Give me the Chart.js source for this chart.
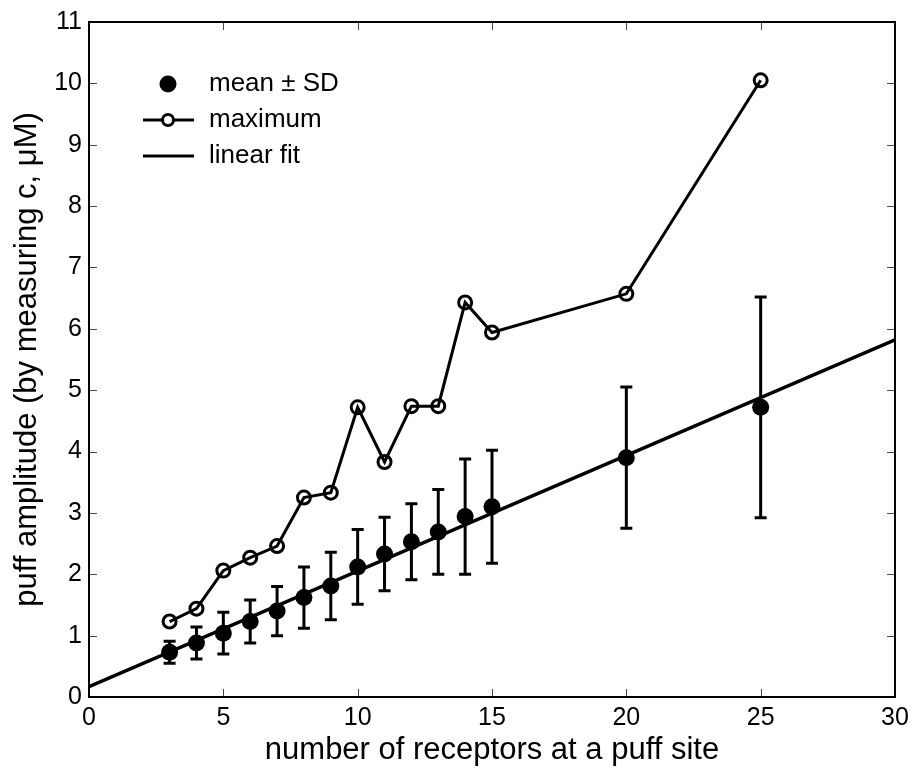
<!DOCTYPE html>
<html lang="en">
<head>
    <meta charset="UTF-8">
    <title>puff amplitude</title>
    <style>
        body { margin: 0; background: #fff; }
        #myChartPuff { display: block; }
    </style>
</head>
<body>
    <canvas id="myChartPuff" width="915" height="769"></canvas>

    <script src="https://cdn.jsdelivr.net/npm/chart.js"></script>
    <script>
    // receptors at a puff site
    var receptors = [3, 4, 5, 6, 7, 8, 9, 10, 11, 12, 13, 14, 15, 20, 25]
    var meanAmp =   [0.73, 0.88, 1.04, 1.23, 1.40, 1.62, 1.81, 2.12, 2.33, 2.53, 2.69, 2.94, 3.10, 3.90, 4.72]
    var sdAmp =     [0.18, 0.26, 0.34, 0.35, 0.40, 0.50, 0.55, 0.61, 0.60, 0.62, 0.69, 0.94, 0.92, 1.15, 1.80]
    var maxAmp =    [1.23, 1.44, 2.06, 2.27, 2.46, 3.25, 3.33, 4.72, 3.83, 4.74, 4.74, 6.43, 5.94, 6.57, 10.05]
    var fitX = [0, 30]
    var fitY = [0.17, 5.82]

    var xTicks = [0, 5, 10, 15, 20, 25, 30]
    var yTicks = [0, 1, 2, 3, 4, 5, 6, 7, 8, 9, 10, 11]

    var legendLabels = ['mean \u00b1 SD', 'maximum', 'linear fit']

    const FONT = '"Liberation Sans", Arial, Helvetica, sans-serif';

    function toPoints(xs, ys) {
        return xs.map((v, i) => ({ x: v, y: ys[i] }));
    }

    // box round the plot with MATLAB style inward ticks
    const boxTicks = {
        id: 'boxTicks',
        afterDraw(chart) {
            const { ctx, chartArea: a, scales: { x, y } } = chart;
            ctx.save();
            ctx.strokeStyle = '#444';
            ctx.lineWidth = 1;
            ctx.beginPath();
            xTicks.forEach(v => {
                const px = Math.round(x.getPixelForValue(v)) + 0.5;
                ctx.moveTo(px, a.bottom); ctx.lineTo(px, a.bottom - 8);
                ctx.moveTo(px, a.top); ctx.lineTo(px, a.top + 8);
            });
            yTicks.forEach(v => {
                const py = Math.round(y.getPixelForValue(v)) + 0.5;
                ctx.moveTo(a.left, py); ctx.lineTo(a.left + 8, py);
                ctx.moveTo(a.right, py); ctx.lineTo(a.right - 8, py);
            });
            ctx.stroke();
            ctx.strokeStyle = '#000';
            ctx.lineWidth = 2;
            ctx.strokeRect(a.left, a.top, a.right - a.left, a.bottom - a.top);
            ctx.restore();
        }
    };

    const errorBars = {
        id: 'errorBars',
        beforeDatasetsDraw(chart) {
            const { ctx, scales: { x, y } } = chart;
            ctx.save();
            ctx.strokeStyle = '#000';
            ctx.lineWidth = 3;
            ctx.beginPath();
            for (let i = 0; i < receptors.length; i++) {
                const px = x.getPixelForValue(receptors[i]);
                const top = y.getPixelForValue(meanAmp[i] + sdAmp[i]);
                const bot = y.getPixelForValue(meanAmp[i] - sdAmp[i]);
                ctx.moveTo(px, top); ctx.lineTo(px, bot);
                ctx.moveTo(px - 6, top); ctx.lineTo(px + 6, top);
                ctx.moveTo(px - 6, bot); ctx.lineTo(px + 6, bot);
            }
            ctx.stroke();
            ctx.restore();
        }
    };

    // legend sits inside the axes, top left
    const innerLegend = {
        id: 'innerLegend',
        afterDraw(chart) {
            const { ctx, chartArea: a } = chart;
            const x0 = a.left + 54, x1 = a.left + 105, xm = a.left + 79, tx = a.left + 120;
            const rows = [a.top + 62, a.top + 98, a.top + 134];
            ctx.save();
            ctx.fillStyle = '#000';
            ctx.strokeStyle = '#000';
            // filled marker
            ctx.beginPath();
            ctx.arc(xm, rows[0], 8.5, 0, Math.PI * 2);
            ctx.fill();
            // line with open marker
            ctx.lineWidth = 3;
            ctx.beginPath();
            ctx.moveTo(x0, rows[1]); ctx.lineTo(x1, rows[1]);
            ctx.moveTo(x0, rows[2]); ctx.lineTo(x1, rows[2]);
            ctx.stroke();
            ctx.beginPath();
            ctx.arc(xm, rows[1], 5.5, 0, Math.PI * 2);
            ctx.fillStyle = '#fff';
            ctx.fill();
            ctx.lineWidth = 3;
            ctx.stroke();
            ctx.fillStyle = '#000';
            ctx.font = '26px ' + FONT;
            ctx.textBaseline = 'middle';
            ctx.textAlign = 'left';
            legendLabels.forEach((t, i) => ctx.fillText(t, tx, rows[i]));
            ctx.restore();
        }
    };

    function ctxPuff() {
        const ctx = document.getElementById('myChartPuff').getContext('2d');
        const data = {
            datasets: [
                {
                    label: 'linear fit',
                    data: toPoints(fitX, fitY),
                    showLine: true,
                    borderColor: '#000',
                    borderWidth: 3.5,
                    pointRadius: 0,
                    order: 2
                },
                {
                    label: 'maximum',
                    data: toPoints(receptors, maxAmp),
                    showLine: true,
                    borderColor: '#000',
                    borderWidth: 3,
                    pointRadius: 6.5,
                    pointBorderWidth: 3,
                    pointBackgroundColor: 'rgba(255,255,255,0)',
                    pointBorderColor: '#000',
                    order: 1
                },
                {
                    label: 'mean \u00b1 SD',
                    data: toPoints(receptors, meanAmp),
                    showLine: false,
                    pointRadius: 8.5,
                    pointBorderWidth: 0,
                    pointBackgroundColor: '#000',
                    pointBorderColor: '#000',
                    order: 0
                }
            ]
        };

        const config = {
            type: 'scatter',
            data: data,
            options: {
                responsive: false,
                animation: false,
                layout: { padding: { top: 19, right: 20, left: 0, bottom: 0 } },
                plugins: {
                    legend: { display: false },
                    tooltip: { enabled: false }
                },
                scales: {
                    x: {
                        type: 'linear',
                        min: 0,
                        max: 30,
                        afterFit(scale) { scale.height = 72; },
                        afterBuildTicks(scale) { scale.ticks = xTicks.map(v => ({ value: v })); },
                        grid: { display: false, drawTicks: false },
                        border: { display: false },
                        ticks: { color: '#000', padding: 6, font: { family: FONT, size: 25 } },
                        title: {
                            display: true,
                            text: 'number of receptors at a puff site',
                            color: '#000',
                            padding: { top: 0, bottom: 0 },
                            font: { family: FONT, size: 31 }
                        }
                    },
                    y: {
                        type: 'linear',
                        min: 0,
                        max: 11,
                        afterFit(scale) { scale.width = 89; },
                        afterBuildTicks(scale) { scale.ticks = yTicks.map(v => ({ value: v })); },
                        grid: { display: false, drawTicks: false },
                        border: { display: false },
                        ticks: { color: '#000', padding: 7, font: { family: FONT, size: 25 } },
                        title: {
                            display: true,
                            text: 'puff amplitude (by measuring c, \u03bcM)',
                            color: '#000',
                            padding: { top: 9, bottom: 0 },
                            font: { family: FONT, size: 31 }
                        }
                    }
                }
            },
            plugins: [errorBars, boxTicks, innerLegend]
        };

        new Chart(ctx, config);
    }

    ctxPuff()
    </script>
</body>
</html>
